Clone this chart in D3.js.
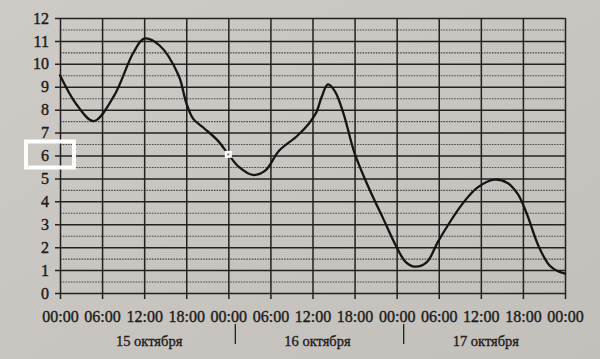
<!DOCTYPE html>
<html>
<head>
<meta charset="utf-8">
<script src="https://cdn.jsdelivr.net/npm/d3@7"></script>
<style>
  html, body { margin: 0; padding: 0; background: #c9c5c0; }
  svg { display: block; }
  text { font-family: "Liberation Serif", "DejaVu Serif", serif; fill: #1c1c1c; }
</style>
</head>
<body>
<svg id="chart" width="600" height="359"></svg>
<script>
// ---- data ----
const hours = [0, 2.3, 4.8, 7.7, 10.4, 12, 14.2, 16.9, 18, 19, 20.5, 22.5, 24,
  25.5, 27.5, 29.3, 31.2, 33.8, 35.5, 36.5, 37.3, 38.2, 39.2, 40.4, 42, 44, 46, 48,
  49.3, 50.6, 52.3, 54, 57.4, 59.5, 61.9, 63.8, 65.3, 66.5, 68.3, 69.8, 71, 72];
const temps = [9.5, 8.25, 7.5, 8.6, 10.45, 11.1, 10.8, 9.5, 8.3, 7.6, 7.2, 6.65, 6.05,
  5.5, 5.15, 5.35, 6.2, 6.85, 7.4, 7.85, 8.55, 9.1, 8.8, 7.85, 6.1, 4.6, 3.3, 2.0,
  1.35, 1.15, 1.35, 2.3, 3.9, 4.6, 4.95, 4.8, 4.3, 3.5, 2.0, 1.2, 0.95, 0.85];
const timeTicks = [0, 6, 12, 18, 24, 30, 36, 42, 48, 54, 60, 66, 72];
const timeLabels = ["00:00", "06:00", "12:00", "18:00", "00:00", "06:00", "12:00", "18:00",
  "00:00", "06:00", "12:00", "18:00", "00:00"];
const yTicks = [0, 1, 2, 3, 4, 5, 6, 7, 8, 9, 10, 11, 12];
const yHalfTicks = [0.5, 1.5, 2.5, 3.5, 4.5, 5.5, 6.5, 7.5, 8.5, 9.5, 10.5, 11.5];
const dayLabels = ["15 октября", "16 октября", "17 октября"];
const dayCenters = [12, 36, 60];
const dayBounds = [24, 48];
const markedHour = 24;
const markedTemp = 6.05;
const highlightedTick = 6;

// ---- drawing ----
const svg = d3.select("#chart");
const L = 60, R = 565, T = 18, B = 293;
const x = d3.scaleLinear([0, 72], [L, R]);
const y = d3.scaleLinear([0, 12], [B, T]);

// paper background
const defs = svg.append("defs");
const grad = defs.append("linearGradient").attr("id", "paper")
  .attr("x1", "0").attr("y1", "0").attr("x2", "1").attr("y2", "1");
grad.append("stop").attr("offset", "0").attr("stop-color", "#cecac5");
grad.append("stop").attr("offset", "1").attr("stop-color", "#c3bfba");
svg.append("rect").attr("width", 600).attr("height", 359).attr("fill", "url(#paper)");

// dotted half-unit lines
const gHalf = svg.append("g").attr("transform", `translate(${L},0)`)
  .call(d3.axisLeft(y).tickValues(yHalfTicks).tickSize(-(R - L)).tickFormat(""));
gHalf.select(".domain").remove();
gHalf.selectAll(".tick line").attr("stroke", "#4a4a4a").attr("stroke-width", 1.1)
  .attr("stroke-dasharray", "1.6,1.1");

// solid horizontal lines with y labels
const gY = svg.append("g").attr("transform", `translate(${L - 5},0)`)
  .call(d3.axisLeft(y).tickValues(yTicks).tickSize(-(R - L + 5)).tickPadding(6).tickFormat(d3.format("d")));
gY.select(".domain").remove();
gY.selectAll(".tick line").attr("stroke", "#222").attr("stroke-width", 1.5);
gY.selectAll(".tick text").attr("font-size", 16).attr("stroke", "#1c1c1c").attr("stroke-width", 0.4)
  .attr("fill", "#1c1c1c");

// vertical lines with time labels
const gX = svg.append("g").attr("transform", `translate(0,${B + 6})`)
  .call(d3.axisBottom(x).tickValues(timeTicks).tickSize(-(B + 6 - T)).tickPadding(12)
    .tickFormat((d, i) => timeLabels[i]));
gX.select(".domain").remove();
gX.selectAll(".tick line").attr("stroke", "#222").attr("stroke-width", 1.5);
gX.selectAll(".tick text").attr("font-size", 16).attr("stroke", "#1c1c1c").attr("stroke-width", 0.4)
  .attr("fill", "#1c1c1c");

// day labels and separators
svg.append("g").selectAll("text").data(dayLabels).join("text")
  .attr("x", (d, i) => x(dayCenters[i]) + 5).attr("y", 346)
  .attr("text-anchor", "middle").attr("font-size", 14.5)
  .attr("stroke", "#1c1c1c").attr("stroke-width", 0.35)
  .text(d => d);
svg.append("g").selectAll("line").data(dayBounds).join("line")
  .attr("x1", d => x(d) + 7).attr("x2", d => x(d) + 7)
  .attr("y1", 324).attr("y2", 344)
  .attr("stroke", "#222").attr("stroke-width", 1.3);

// temperature curve
const pts = hours.map((h, i) => [h, temps[i]]);
const line = d3.line().x(d => x(d[0])).y(d => y(d[1])).curve(d3.curveCatmullRom.alpha(0.5));
svg.append("path").datum(pts).attr("d", line)
  .attr("fill", "none").attr("stroke", "#151515").attr("stroke-width", 2.3)
  .attr("stroke-linejoin", "round").attr("stroke-linecap", "round");

// marker at the selected point
svg.append("rect")
  .attr("x", x(markedHour) - 3.5).attr("y", y(markedTemp) - 3.5)
  .attr("width", 7).attr("height", 7).attr("fill", "#ffffff");
svg.append("rect")
  .attr("x", x(markedHour) - 1).attr("y", y(markedTemp) - 1)
  .attr("width", 2).attr("height", 2).attr("fill", "#777");

// highlight frame around the "6" label
svg.append("rect")
  .attr("x", 26).attr("y", y(highlightedTick) - 14)
  .attr("width", 48).attr("height", 26)
  .attr("fill", "none").attr("stroke", "#ffffff").attr("stroke-width", 4);
</script>
</body>
</html>
